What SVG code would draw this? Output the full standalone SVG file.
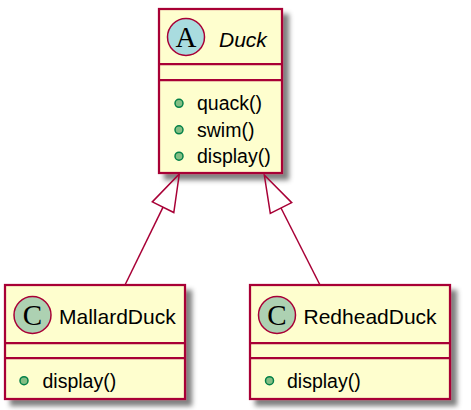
<svg xmlns="http://www.w3.org/2000/svg" width="471" height="410" viewBox="0 0 471 410">
<defs>
<filter id="sh" x="-10%" y="-10%" width="130%" height="130%">
<feGaussianBlur in="SourceAlpha" stdDeviation="2.5"/>
<feOffset dx="6" dy="6" result="b"/>
<feFlood flood-color="#000" flood-opacity="0.5"/>
<feComposite in2="b" operator="in" result="s"/>
<feMerge><feMergeNode in="s"/><feMergeNode in="SourceGraphic"/></feMerge>
</filter>
</defs>
<style>
.box{fill:#FEFECE;stroke:#A80036;stroke-width:2.25}
.sep{stroke:#A80036;stroke-width:2.25}
.ca{fill:#A9DCDF;stroke:#A80036;stroke-width:1.5}
.cc{fill:#ADD1B2;stroke:#A80036;stroke-width:1.5}
.lt{font-family:"Liberation Serif",serif;font-size:29px;fill:#000;text-anchor:middle}
.name{font-family:"Liberation Sans",Arial,sans-serif;font-size:21px;fill:#000}
.m{font-family:"Liberation Sans",Arial,sans-serif;font-size:19.5px;fill:#000}
.b{fill:#84BE84;stroke:#038048;stroke-width:1.5}
.edge{stroke:#A80036;stroke-width:1.5;fill:none}
</style>
<g id="Duck">
<rect class="box" x="159" y="9" width="123" height="164" filter="url(#sh)"/>
<circle class="ca" cx="186" cy="37" r="18.5"/>
<text class="lt" x="186" y="47">A</text>
<text class="name" x="219" y="46.5" font-style="italic">Duck</text>
<line class="sep" x1="159" y1="64" x2="282" y2="64"/>
<line class="sep" x1="159" y1="80" x2="282" y2="80"/>
<circle class="b" cx="179" cy="103.3" r="4"/>
<text class="m" x="197" y="110">quack()</text>
<circle class="b" cx="179" cy="129.8" r="4"/>
<text class="m" x="197" y="136.5">swim()</text>
<circle class="b" cx="179" cy="156.2" r="4"/>
<text class="m" x="197" y="163">display()</text>
</g>
<g id="MallardDuck">
<rect class="box" x="5" y="285" width="180" height="114" filter="url(#sh)"/>
<circle class="cc" cx="32.5" cy="315" r="18.5"/>
<text class="lt" x="32.5" y="325">C</text>
<text class="name" x="59" y="324">MallardDuck</text>
<line class="sep" x1="5" y1="343" x2="185" y2="343"/>
<line class="sep" x1="5" y1="358" x2="185" y2="358"/>
<circle class="b" cx="24" cy="380.7" r="4"/>
<text class="m" x="42.5" y="387.5">display()</text>
</g>
<g id="RedheadDuck">
<rect class="box" x="250" y="285" width="200" height="114" filter="url(#sh)"/>
<circle class="cc" cx="277" cy="315" r="18.5"/>
<text class="lt" x="277" y="325">C</text>
<text class="name" x="303.5" y="324">RedheadDuck</text>
<line class="sep" x1="250" y1="343" x2="450" y2="343"/>
<line class="sep" x1="250" y1="358" x2="450" y2="358"/>
<circle class="b" cx="269.5" cy="380.7" r="4"/>
<text class="m" x="287" y="387.5">display()</text>
</g>
<g id="connectors">
<line class="edge" x1="125" y1="285" x2="163.05" y2="207.2"/>
<polygon class="edge" points="179.3,174 173.8,212.5 152.3,201.9"/>
<line class="edge" x1="320" y1="285" x2="281" y2="208"/>
<polygon class="edge" points="264.3,175 291.7,202.6 270.3,213.4"/>
</g>
</svg>
